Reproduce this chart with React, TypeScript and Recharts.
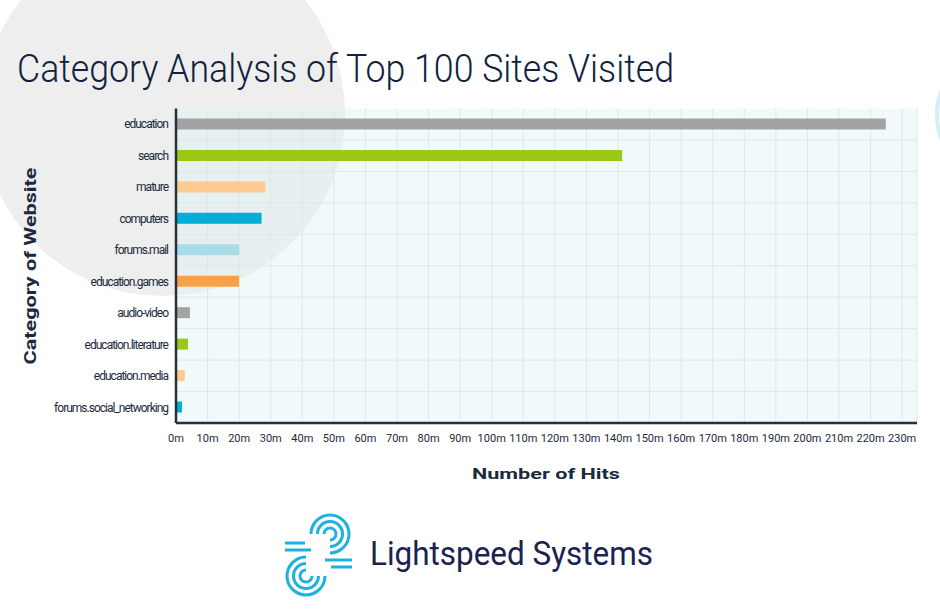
import React from "react";
import { Bar, BarChart, CartesianGrid, Cell, XAxis, YAxis } from "recharts";

const categories = [
  "education",
  "search",
  "mature",
  "computers",
  "forums.mail",
  "education.games",
  "audio-video",
  "education.literature",
  "education.media",
  "forums.social_networking",
];
const hits = [224.8, 141.3, 28.3, 27.1, 20, 20, 4.4, 3.8, 2.8, 1.9];
const xTicks = [0, 10, 20, 30, 40, 50, 60, 70, 80, 90, 100, 110, 120, 130, 140, 150, 160, 170, 180, 190, 200, 210, 220, 230];

const COLORS = ["#a3a3a3", "#9bc815", "#fdca90", "#00aed6", "#a8dde7", "#f8a04a"];

const data = categories.map((name, i) => ({ name, hits: hits[i] }));

const INK = "#1b2a3d";

const Logo = () => (
  <g fill="none" stroke="#1eb0df" strokeWidth={3} strokeLinecap="butt">
    {[6, 12.5, 19].map((r) => (
      <path key={`u${r}`} d={`M ${330 - r} 534 A ${r} ${r} 0 1 1 330 ${534 + r}`} />
    ))}
    {[6, 12.5, 19].map((r) => (
      <path key={`l${r}`} d={`M ${306 + r} 576 A ${r} ${r} 0 1 1 306 ${576 - r}`} />
    ))}
    <line x1={285} y1={543} x2={305} y2={543} />
    <line x1={285} y1={550} x2={311} y2={550} />
    <line x1={325} y1={560} x2={352} y2={560} />
    <line x1={331} y1={567} x2={352} y2={567} />
  </g>
);

export default function App() {
  return (
    <div style={{ position: "absolute", left: 0, top: 0, width: 940, height: 612, background: "#fff", overflow: "hidden", fontFamily: "Roboto, sans-serif" }}>
      <svg width={940} height={612} style={{ position: "absolute", left: 0, top: 0 }}>
        <circle cx={163} cy={114} r={182} fill="#eeeeee" />
        <circle cx={1005} cy={115} r={68} fill="none" stroke="#d3eff7" strokeWidth={4} />
      </svg>
      <div style={{ position: "absolute", left: 0, top: 0 }}>
        <BarChart width={940} height={612} layout="vertical" data={data} margin={{ top: 108.5, right: 23, bottom: 159, left: 0 }} barSize={11}>
          <CartesianGrid
            fill="rgb(221,243,245)"
            fillOpacity={0.41}
            stroke="#dfe8e6"
            horizontalCoordinatesGenerator={({ offset }: any) => categories.map((_, i) => offset.top + (offset.height * (i + 1)) / categories.length)}
          />
          <XAxis
            type="number"
            domain={[0, 234.7]}
            ticks={xTicks}
            interval={0}
            tickFormatter={(v: number) => `${v}m`}
            tick={{ fontSize: 11, fill: INK }}
            tickLine={false}
            tickMargin={5}
            axisLine={{ stroke: "#27313c", strokeWidth: 2.5 }}
            height={30}
          />
          <YAxis
            type="category"
            dataKey="name"
            width={176}
            interval={0}
            tick={{ fontSize: 12, fill: INK, letterSpacing: -1 }}
            tickLine={false}
            axisLine={{ stroke: "#27313c", strokeWidth: 2.5 }}
          />
          <Bar dataKey="hits" isAnimationActive={false}>
            {data.map((_, i) => (
              <Cell key={`cell-${i}`} fill={COLORS[i % COLORS.length]} />
            ))}
          </Bar>
        </BarChart>
      </div>
      <svg width={940} height={612} style={{ position: "absolute", left: 0, top: 0, pointerEvents: "none" }}>
        <text x={17} y={82} fontSize={38} fontWeight={300} fill="#0f2340" textLength={657} lengthAdjust="spacingAndGlyphs">
          Category Analysis of Top 100 Sites Visited
        </text>
        <text x={546} y={479} fontSize={15} fontWeight={700} fill={INK} textAnchor="middle" textLength={148} lengthAdjust="spacingAndGlyphs">
          Number of Hits
        </text>
        <text
          x={0}
          y={0}
          transform="translate(36 266) rotate(-90)"
          fontSize={16}
          fontWeight={700}
          fill={INK}
          textAnchor="middle"
          textLength={197}
          lengthAdjust="spacingAndGlyphs"
        >
          Category of Website
        </text>
        <Logo />
        <text x={370} y={565} fontSize={34} fontWeight={400} fill="#1b2150" textLength={283} lengthAdjust="spacingAndGlyphs">
          Lightspeed Systems
        </text>
      </svg>
    </div>
  );
}
